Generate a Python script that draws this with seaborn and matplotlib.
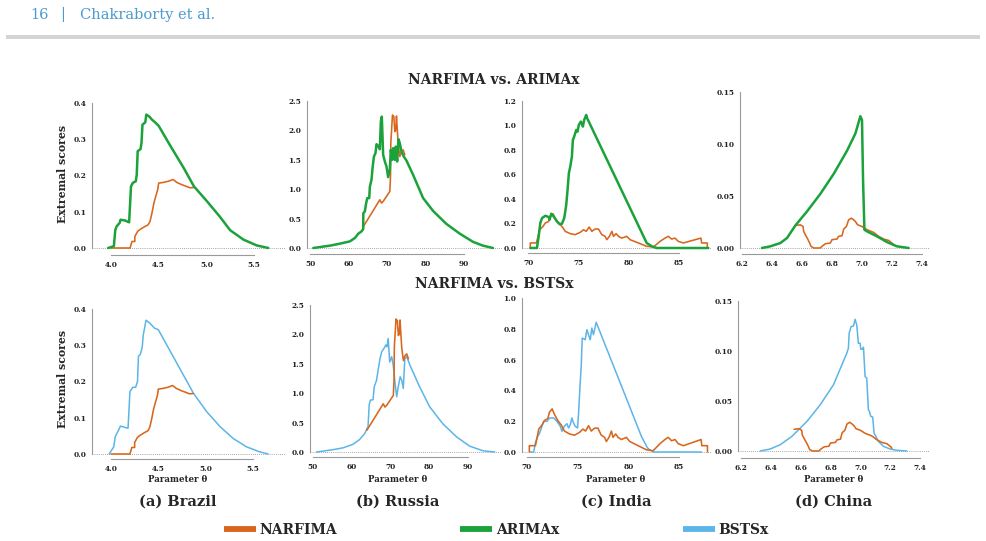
import seaborn as sns
import matplotlib.pyplot as plt
from matplotlib.lines import Line2D
from matplotlib.patches import Rectangle
from matplotlib.ticker import FormatStrFormatter

# ---------------- data ----------------
# Brazil
brazil_narfima_x = [4.0, 4.2, 4.22, 4.25, 4.25, 4.28, 4.31, 4.36, 4.39, 4.41, 4.43, 4.45, 4.47,
                    4.49, 4.5, 4.55, 4.6, 4.65, 4.69, 4.74, 4.79, 4.83, 4.87]
brazil_narfima_y = [0, 0, 0.018, 0.018, 0.032, 0.046, 0.052, 0.06, 0.064, 0.074, 0.097, 0.124, 0.143,
                    0.161, 0.179, 0.181, 0.184, 0.189, 0.181, 0.175, 0.17, 0.166, 0.167]
brazil_arimax_x = [3.97, 4.03, 4.045, 4.06, 4.09, 4.1, 4.145, 4.19, 4.21, 4.23, 4.26, 4.27, 4.28,
                   4.31, 4.32, 4.33, 4.36, 4.37, 4.4, 4.43, 4.47, 4.5, 4.62, 4.76, 4.87, 5.0,
                   5.14, 5.25, 5.39, 5.53, 5.65]
brazil_arimax_y = [0, 0.005, 0.05, 0.06, 0.069, 0.078, 0.076, 0.071, 0.17, 0.18, 0.184, 0.202, 0.267,
                   0.273, 0.29, 0.34, 0.347, 0.368, 0.363, 0.354, 0.345, 0.337, 0.283, 0.222, 0.17, 0.131,
                   0.087, 0.049, 0.023, 0.007, 0.0]
brazil_bstsx_x = [3.98, 4.03, 4.045, 4.08, 4.1, 4.18, 4.2, 4.23, 4.26, 4.28, 4.29, 4.31, 4.33, 4.34,
                  4.37, 4.41, 4.46, 4.5, 4.87, 5.01, 5.15, 5.29, 5.43, 5.57, 5.66]
brazil_bstsx_y = [0, 0.02, 0.048, 0.066, 0.077, 0.071, 0.172, 0.184, 0.184, 0.2, 0.27, 0.275, 0.295, 0.327,
                  0.369, 0.361, 0.347, 0.343, 0.168, 0.117, 0.076, 0.043, 0.02, 0.006, 0.0]

# Russia
russia_narfima_x = [63.9, 68.14, 68.57, 69.0, 70.73, 70.91, 70.99, 71.42, 71.77, 72.03, 72.29, 72.46,
                    72.89, 73.33, 73.76, 74.19, 74.62]
russia_narfima_y = [0.37, 0.82, 0.764, 0.792, 0.962, 1.216, 1.782, 2.262, 2.234, 1.98, 2.008, 2.245,
                    1.78, 1.555, 1.64, 1.669, 1.584]
russia_arimax_x = [50.86, 55.18, 57.78, 60.37, 61.66, 62.53, 63.39, 63.82, 63.85, 64.25, 64.51, 64.86,
                   65.38, 65.55, 65.98, 66.24, 66.6, 67.0, 67.28, 67.7, 68.14, 68.4, 68.65, 69.0, 69.44,
                   69.87, 70.3, 70.73, 70.99, 71.34, 71.6, 72.03, 72.29, 72.64, 72.98, 73.33, 73.76,
                   74.36, 75.05, 76.78, 79.37, 81.97, 85.42, 88.88, 92.33, 94.92, 97.52]
russia_arimax_y = [0, 0.04, 0.074, 0.113, 0.17, 0.243, 0.283, 0.322, 0.594, 0.622, 0.735, 0.848,
                   0.848, 1.046, 1.16, 1.357, 1.555, 1.612, 1.765, 1.736, 1.68, 2.149, 2.234, 1.584, 1.471,
                   1.386, 1.205, 1.329, 1.669, 1.499, 1.697, 1.499, 1.725, 1.471, 1.85, 1.782, 1.64,
                   1.555, 1.488, 1.244, 0.85, 0.63, 0.41, 0.245, 0.105, 0.04, 0.0]
russia_bstsx_x = [50.9, 55.2, 57.7, 60.3, 62.0, 63.3, 64.2, 64.5, 64.8, 65.5, 65.8, 66.4, 66.8, 67.3,
                  67.7, 68.3, 68.8, 69.1, 69.4, 69.8, 70.3, 70.7, 71.2, 71.6, 72.0, 72.5, 72.9, 73.3,
                  73.7, 74.2, 75.0, 77.5, 80.1, 83.5, 87.0, 90.4, 93.9, 96.9]
russia_bstsx_y = [0, 0.04, 0.07, 0.13, 0.21, 0.31, 0.43, 0.8, 0.88, 0.89, 1.11, 1.22, 1.39, 1.59,
                  1.7, 1.76, 1.82, 1.79, 1.93, 1.53, 1.62, 1.48, 1.16, 0.94, 1.11, 1.28, 1.22, 1.08,
                  1.59, 1.62, 1.48, 1.11, 0.77, 0.48, 0.26, 0.1, 0.02, 0.0]

# India
india_narfima_x = [70.23, 70.23, 70.83, 70.96, 71.16, 71.49, 71.72, 72.05, 72.21, 72.48, 72.71, 73.04,
                   73.37, 73.7, 74.2, 74.69, 75.19, 75.52, 75.78, 76.08, 76.34, 76.67, 77.0, 77.33,
                   77.66, 77.83, 78.09, 78.33, 78.49, 78.75, 78.99, 79.32, 79.81, 80.14, 81.79, 82.45,
                   83.12, 83.61, 83.94, 84.27, 84.6, 84.93, 85.43, 87.18, 87.25, 87.81, 87.81]
india_narfima_y = [0, 0.041, 0.041, 0.081, 0.149, 0.176, 0.204, 0.217, 0.258, 0.28, 0.244, 0.204,
                   0.176, 0.136, 0.117, 0.109, 0.128, 0.149, 0.136, 0.171, 0.136, 0.155, 0.155, 0.109,
                   0.095, 0.068, 0.095, 0.136, 0.095, 0.117, 0.095, 0.081, 0.095, 0.068, 0.014, 0.008,
                   0.054, 0.081, 0.095, 0.073, 0.081, 0.054, 0.041, 0.081, 0.041, 0.041, 0.0]
india_arimax_x = [70.23, 70.89, 71.06, 71.22, 71.39, 71.72, 72.05, 72.15, 72.31, 72.54, 72.87, 73.14,
                  73.37, 73.6, 73.8, 73.93, 74.06, 74.2, 74.36, 74.46, 74.59, 74.79, 74.92, 75.05,
                  75.25, 75.45, 75.58, 75.78, 75.88, 81.79, 82.29, 82.78, 87.91]
india_arimax_y = [0, 0, 0.095, 0.204, 0.244, 0.263, 0.253, 0.231, 0.28, 0.258, 0.217, 0.195,
                  0.198, 0.244, 0.353, 0.475, 0.611, 0.665, 0.747, 0.882, 0.91, 0.964, 0.95, 1.005,
                  1.032, 0.991, 1.045, 1.086, 1.059, 0.041, 0.014, 0.0, 0.0]
india_bstsx_x = [70.33, 70.66, 70.82, 70.98, 71.25, 71.48, 71.64, 71.97, 72.23, 72.63, 72.95, 73.28,
                 73.45, 73.68, 73.94, 74.1, 74.27, 74.43, 74.59, 74.76, 74.99, 75.09, 75.25, 75.35,
                 75.45, 75.74, 75.91, 76.07, 76.24, 76.4, 76.56, 76.83, 81.3, 81.9, 82.47, 87.23]
india_bstsx_y = [0, 0, 0.058, 0.091, 0.123, 0.167, 0.199, 0.199, 0.221, 0.221, 0.199, 0.167,
                 0.134, 0.167, 0.184, 0.156, 0.177, 0.221, 0.188, 0.167, 0.156, 0.253, 0.448, 0.556,
                 0.74, 0.729, 0.794, 0.762, 0.729, 0.805, 0.762, 0.842, 0.1, 0.025, 0.0, 0.0]

# China
china_narfima_x = [6.556, 6.589, 6.607, 6.611, 6.622, 6.638, 6.651, 6.66, 6.678, 6.722, 6.733, 6.756,
                   6.789, 6.8, 6.833, 6.844, 6.867, 6.878, 6.896, 6.911, 6.929, 6.944, 6.956, 6.971,
                   7.0, 7.033, 7.078, 7.111, 7.144, 7.178, 7.207, 7.211]
china_narfima_y = [0.0217, 0.0223, 0.0207, 0.016, 0.0128, 0.0086, 0.0048, 0.0016, 0, 0, 0.0016, 0.0041,
                   0.0048, 0.008, 0.0086, 0.0112, 0.0118, 0.0182, 0.0207, 0.0271, 0.0287, 0.0271, 0.0255,
                   0.0223, 0.0207, 0.0176, 0.015, 0.0112, 0.0086, 0.0073, 0.0038, 0.0026]
china_arimax_x = [6.333, 6.389, 6.456, 6.5, 6.556, 6.633, 6.722, 6.811, 6.9, 6.956, 6.989, 7.0, 7.007,
                  7.016, 7.033, 7.1, 7.167, 7.233, 7.311]
china_arimax_y = [0, 0.0016, 0.0048, 0.0096, 0.0217, 0.0351, 0.052, 0.0712, 0.0935, 0.1101, 0.1267,
                  0.1229, 0.0654, 0.0176, 0.016, 0.0112, 0.0057, 0.0016, 0.0]
china_bstsx_x = [6.329, 6.396, 6.463, 6.541, 6.642, 6.731, 6.82, 6.909, 6.92, 6.925, 6.938, 6.954,
                 6.965, 6.976, 6.987, 6.999, 7.003, 7.016, 7.021, 7.032, 7.043, 7.054, 7.061, 7.07,
                 7.083, 7.092, 7.121, 7.155, 7.199, 7.244, 7.311]
china_bstsx_y = [0, 0.002, 0.0063, 0.0146, 0.0296, 0.0462, 0.0662, 0.0978, 0.1028, 0.1177, 0.1244,
                 0.125, 0.1317, 0.126, 0.1077, 0.1077, 0.1018, 0.1018, 0.1038, 0.0745, 0.0728, 0.0412,
                 0.0396, 0.0346, 0.0339, 0.018, 0.0096, 0.0047, 0.002, 0.0007, 0.0]

# axis ticks per country
brazil_xticks = [4.0, 4.5, 5.0, 5.5]
russia_xticks = [50, 60, 70, 80, 90]
india_xticks = [70, 75, 80, 85]
china_xticks = [6.2, 6.4, 6.6, 6.8, 7.0, 7.2, 7.4]
brazil_yticks = [0.0, 0.1, 0.2, 0.3, 0.4]
russia_yticks = [0.0, 0.5, 1.0, 1.5, 2.0, 2.5]
india_yticks_top = [0.0, 0.2, 0.4, 0.6, 0.8, 1.0, 1.2]
india_yticks_bottom = [0.0, 0.2, 0.4, 0.6, 0.8, 1.0]
china_yticks = [0.0, 0.05, 0.10, 0.15]

panel_labels = ['(a) Brazil', '(b) Russia', '(c) India', '(d) China']
series_names = ['NARFIMA', 'ARIMAx', 'BSTSx']

# ---------------- style ----------------
C_NARFIMA = '#D8661C'
C_ARIMAX = '#1BA23A'
C_BSTSX = '#5BB5E8'
SPINE = '#9a9a9a'

sns.set_style('white')
plt.rcParams['font.family'] = ['DejaVu Serif']
plt.rcParams['font.weight'] = 'bold'

W, H = 986, 541
fig = plt.figure(figsize=(W / 100, H / 100), dpi=100)


def add_panel(box, xt, xpx, yt, ypx, xfmt, yfmt):
    # box / xpx / ypx are pixel positions of the panel frame and of first/last ticks
    L, T, R, B = box
    ax = fig.add_axes([L / W, 1 - B / H, (R - L) / W, (B - T) / H])
    sx = (xpx[1] - xpx[0]) / (xt[-1] - xt[0])
    ax.set_xlim(xt[0] + (L - xpx[0]) / sx, xt[0] + (R - xpx[0]) / sx)
    sy = (ypx[0] - ypx[1]) / (yt[-1] - yt[0])
    ax.set_ylim(yt[0] - (B - ypx[0]) / sy, yt[0] + (ypx[0] - T) / sy)
    ax.set_xticks(xt)
    ax.set_yticks(yt)
    ax.xaxis.set_major_formatter(FormatStrFormatter(xfmt))
    ax.yaxis.set_major_formatter(FormatStrFormatter(yfmt))
    sns.despine(ax=ax)
    ax.spines['left'].set_bounds(yt[0], yt[-1])
    ax.spines['bottom'].set_bounds(xt[0], xt[-1])
    for s in ('left', 'bottom'):
        ax.spines[s].set_color(SPINE)
        ax.spines[s].set_linewidth(0.8)
    ax.tick_params(axis='both', labelsize=5.3, length=2.5, width=0.7, color=SPINE,
                   pad=1.5, labelcolor='#222222')
    ax.axhline(0, color='#8a8a8a', lw=0.6, ls=(0, (1, 1.5)), zorder=0)
    ax.set_facecolor('none')
    return ax


def draw(ax, x, y, color, lw):
    sns.lineplot(x=x, y=y, ax=ax, color=color, lw=lw, estimator=None, sort=False, legend=False)


top = [
    (brazil_narfima_x, brazil_narfima_y, brazil_arimax_x, brazil_arimax_y,
     (92, 90, 285, 255), brazil_xticks, (111, 254), brazil_yticks, (248, 103), '%.1f', '%.1f'),
    (russia_narfima_x, russia_narfima_y, russia_arimax_x, russia_arimax_y,
     (307, 90, 502, 254), russia_xticks, (310, 464), russia_yticks, (248, 101), '%d', '%.1f'),
    (india_narfima_x, india_narfima_y, india_arimax_x, india_arimax_y,
     (522, 90, 712, 253), india_xticks, (528, 679), india_yticks_top, (248, 101), '%d', '%.1f'),
    (china_narfima_x, china_narfima_y, china_arimax_x, china_arimax_y,
     (740, 88, 930, 254), china_xticks, (742, 922), china_yticks, (248, 92), '%.1f', '%.2f'),
]
bottom = [
    (brazil_narfima_x, brazil_narfima_y, brazil_bstsx_x, brazil_bstsx_y,
     (92, 296, 285, 459), brazil_xticks, (111, 253), brazil_yticks, (454, 309), '%.1f', '%.1f'),
    (russia_narfima_x, russia_narfima_y, russia_bstsx_x, russia_bstsx_y,
     (310, 296, 502, 457), russia_xticks, (313, 468), russia_yticks, (452, 305), '%d', '%.1f'),
    (india_narfima_x, india_narfima_y, india_bstsx_x, india_bstsx_y,
     (522, 294, 712, 457), india_xticks, (527, 679), india_yticks_bottom, (452, 298), '%d', '%.1f'),
    (china_narfima_x, china_narfima_y, china_bstsx_x, china_bstsx_y,
     (738, 294, 930, 458), china_xticks, (741, 920), china_yticks, (451, 301), '%.1f', '%.2f'),
]
label_centers = [178, 398, 616, 834]

for nx, ny, ox, oy, box, xt, xpx, yt, ypx, xf, yf in top:
    ax = add_panel(box, xt, xpx, yt, ypx, xf, yf)
    draw(ax, nx, ny, C_NARFIMA, 1.15)
    draw(ax, ox, oy, C_ARIMAX, 1.8)

for i, (nx, ny, ox, oy, box, xt, xpx, yt, ypx, xf, yf) in enumerate(bottom):
    ax = add_panel(box, xt, xpx, yt, ypx, xf, yf)
    draw(ax, ox, oy, C_BSTSX, 1.1)
    draw(ax, nx, ny, C_NARFIMA, 1.15)
    cx = label_centers[i]
    fig.text(cx / W, 1 - 479 / H, 'Parameter θ', ha='center', va='center', fontsize=6.2)
    fig.text(cx / W, 1 - 502 / H, panel_labels[i], ha='center', va='center', fontsize=10.5)

# row titles and y labels
fig.text(494 / W, 1 - 80 / H, 'NARFIMA vs. ARIMAx', ha='center', va='center', fontsize=10)
fig.text(494 / W, 1 - 284 / H, 'NARFIMA vs. BSTSx', ha='center', va='center', fontsize=10)
fig.text(62 / W, 1 - 174 / H, 'Extremal scores', rotation=90, ha='center', va='center', fontsize=7.8)
fig.text(62 / W, 1 - 379 / H, 'Extremal scores', rotation=90, ha='center', va='center', fontsize=7.8)

# shared legend
handles = [Line2D([], [], color=c, lw=4.2, solid_capstyle='butt')
           for c in (C_NARFIMA, C_ARIMAX, C_BSTSX)]
fig.legend(handles, series_names, loc='center', bbox_to_anchor=(496 / W, 1 - 530 / H), ncol=3,
           frameon=False, fontsize=10, handlelength=2.3, handletextpad=0.25, columnspacing=8.9)

# page header
hdr = '#4A9BD0'
fig.text(30 / W, 1 - 15 / H, '16', ha='left', va='center', fontsize=10.5, color=hdr, weight='normal')
fig.text(63 / W, 1 - 15 / H, '|', ha='center', va='center', fontsize=10.5, color=hdr, weight='normal')
fig.text(80 / W, 1 - 15 / H, 'Chakraborty et al.', ha='left', va='center', fontsize=10.5,
         color=hdr, weight='normal')
fig.add_artist(Rectangle((6 / W, 1 - 39 / H), 974 / W, 4 / H, transform=fig.transFigure,
                         color='#D4D4D4', lw=0))

fig.savefig('out.png', dpi=100)
